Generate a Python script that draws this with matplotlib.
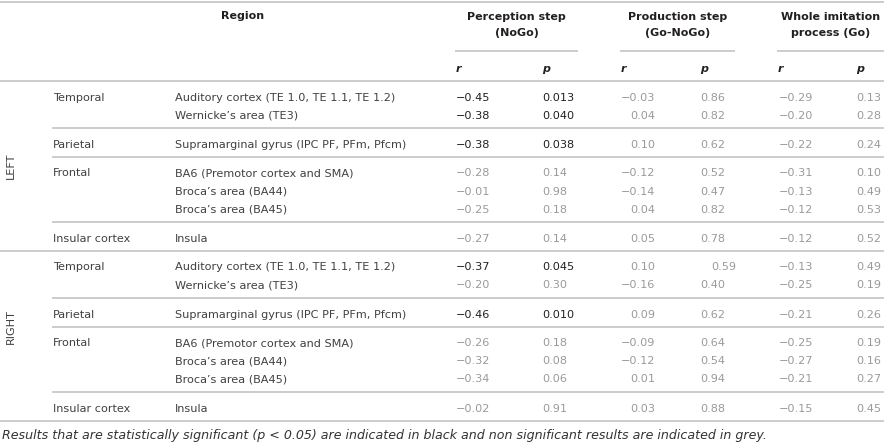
#! /usr/bin/env python3

'''
Correlation table: imitation steps vs. regional measures
'''

import matplotlib
matplotlib.use('Agg')
import matplotlib.pyplot as plt


hemispheres = ['LEFT', 'RIGHT']
lobes = ['Temporal', 'Parietal', 'Frontal', 'Insular cortex']
areas = [
    ['Auditory cortex (TE 1.0, TE 1.1, TE 1.2)', 'Wernicke\u2019s area (TE3)'],
    ['Supramarginal gyrus (IPC PF, PFm, Pfcm)'],
    ['BA6 (Premotor cortex and SMA)', 'Broca\u2019s area (BA44)',
     'Broca\u2019s area (BA45)'],
    ['Insula'],
]

# one row per area, LEFT rows first then RIGHT rows
perception_r = [-0.45, -0.38, -0.38, -0.28, -0.01, -0.25, -0.27,
                -0.37, -0.20, -0.46, -0.26, -0.32, -0.34, -0.02]
perception_p = ['0.013', '0.040', '0.038', '0.14', '0.98', '0.18', '0.14',
                '0.045', '0.30', '0.010', '0.18', '0.08', '0.06', '0.91']
production_r = [-0.03, 0.04, 0.10, -0.12, -0.14, 0.04, 0.05,
                0.10, -0.16, 0.09, -0.09, -0.12, 0.01, 0.03]
production_p = ['0.86', '0.82', '0.62', '0.52', '0.47', '0.82', '0.78',
                '0.59', '0.40', '0.62', '0.64', '0.54', '0.94', '0.88']
whole_r = [-0.29, -0.20, -0.22, -0.31, -0.13, -0.12, -0.12,
           -0.13, -0.25, -0.21, -0.25, -0.27, -0.21, -0.15]
whole_p = ['0.13', '0.28', '0.24', '0.10', '0.49', '0.53', '0.52',
           '0.49', '0.19', '0.26', '0.19', '0.16', '0.27', '0.45']

group_titles = ['Perception step\n(NoGo)', 'Production step\n(Go-NoGo)',
                'Whole imitation\nprocess (Go)']
footnote = ('Results that are statistically significant (p < 0.05) are '
            'indicated in black and non significant results are indicated '
            'in grey.')

W, H = 884, 443
BLACK = '#231f20'
GREY = '#9a9a9a'
DARK = '#404040'
LINE = '#c4c4c4'
FS = 8.1
FS_HEAD = 8.0
FS_NOTE = 9.05

plt.rcParams['font.family'] = ['DejaVu Sans']


def fmt_r(v: float) -> str:
    s = f'{abs(v):.2f}'
    return ('\u2212' + s) if v < 0 else s


def main():
    fig = plt.figure(figsize=(W / 100, H / 100), dpi=100)
    ax = fig.add_axes([0, 0, 1, 1])
    ax.set_xlim(0, W)
    ax.set_ylim(H, 0)
    ax.axis('off')

    # header
    ax.hlines(2, 0, W, color=LINE, lw=1.2)
    ax.text(243, 16, 'Region', ha='center', va='center', fontsize=FS_HEAD,
            weight='bold', color=BLACK)
    col_r = [490, 655, 813]      # right edge of r columns
    col_p = [542, 700, 856]      # left edge of p columns
    spans = [(455, 578), (620, 735), (777, W)]
    for title, (a, b), xr, xp in zip(group_titles, spans, col_r, col_p):
        ax.text((a + b) / 2, 25, title, ha='center', va='center',
                fontsize=FS_HEAD, weight='bold', color=BLACK,
                linespacing=1.75)
        ax.hlines(51, a, b, color=LINE, lw=1.2)
        ax.text(a + 1, 69, 'r', ha='left', va='center', fontsize=FS_HEAD,
                weight='bold', style='italic', color=BLACK)
        ax.text(xp, 69, 'p', ha='left', va='center', fontsize=FS_HEAD,
                weight='bold', style='italic', color=BLACK)
    ax.hlines(81, 0, W, color=LINE, lw=1.2)

    y_line = 81
    row = 0
    hemi_y = [166, 327]
    for h, hemi in enumerate(hemispheres):
        ax.text(11, hemi_y[h], hemi, rotation=90, ha='center', va='center',
                fontsize=FS, color=DARK)
        for k, lobe in enumerate(lobes):
            rows = areas[k]
            y0 = y_line + 16.5
            ax.text(53, y0, lobe, ha='left', va='center', fontsize=FS,
                    color=DARK)
            for j, area in enumerate(rows):
                y = y0 + 18 * j
                ax.text(175, y, area, ha='left', va='center', fontsize=FS,
                        color=DARK)
                pairs = [(perception_r, perception_p),
                         (production_r, production_p),
                         (whole_r, whole_p)]
                for g, (rv, pv) in enumerate(pairs):
                    c = BLACK if float(pv[row]) < 0.05 else GREY
                    ax.text(col_r[g], y, fmt_r(rv[row]), ha='right',
                            va='center', fontsize=FS, color=c)
                    xp = col_p[g]
                    if g == 1 and h == 1 and k == 0 and j == 0:
                        xp += 11   # this value is set off in the original
                    ax.text(xp, y, pv[row], ha='left', va='center',
                            fontsize=FS, color=c)
                row += 1
            y_line = y0 - 1 + 18 * (len(rows) - 1) + 13.5
            last = k == len(lobes) - 1
            ax.hlines(y_line, 0 if last else 52, W, color=LINE, lw=1.2)

    ax.text(2, 435, footnote, ha='left', va='center', fontsize=FS_NOTE,
            style='italic', color='#333333')

    fig.savefig('out.png', dpi=100)


if __name__ == '__main__':
    main()
